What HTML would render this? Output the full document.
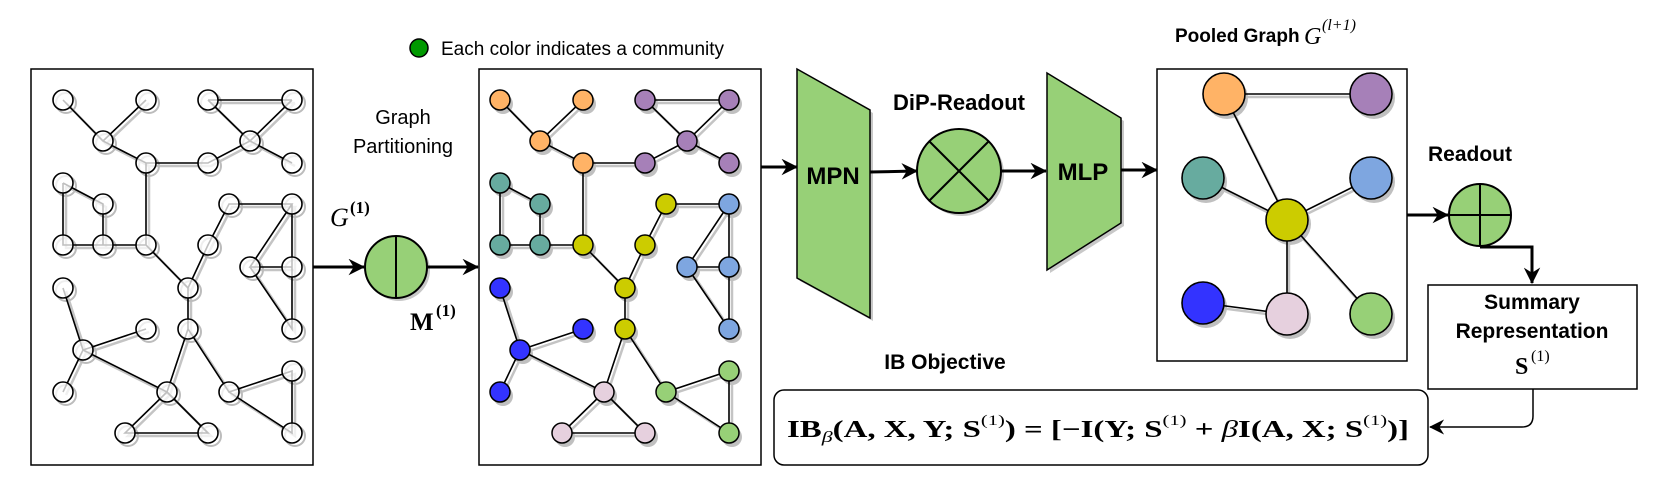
<!DOCTYPE html>
<html><head><meta charset="utf-8"><style>
html,body{margin:0;padding:0;background:#fff}
svg{display:block}
text{font-family:"Liberation Sans",sans-serif}
.m{font-family:"Liberation Serif",serif}
</style></head><body>
<svg width="1655" height="481" viewBox="0 0 1655 481" xmlns="http://www.w3.org/2000/svg">
<defs>
<marker id="ar" viewBox="0 0 16 16" refX="15" refY="8" markerWidth="5.5" markerHeight="5.5" markerUnits="strokeWidth" orient="auto">
<path d="M0 0L16 8L0 16L5 8Z" fill="#000"/></marker>
<marker id="ar2" viewBox="0 0 16 16" refX="15" refY="8" markerWidth="10" markerHeight="10" markerUnits="strokeWidth" orient="auto">
<path d="M0 0L16 8L0 16L5 8Z" fill="#000"/></marker>
<path id="E" d="M63 100L103 141L146 163L208 163L250 141L292 100 M146 100L103 141 M208 100L250 141L292 163 M208 100L292 100 M146 163L146 245 M63 183L103 204L103 245L63 245L63 183 M103 245L146 245L188 288L188 329 M188 288L208 245L229 204L292 204L250 267L292 267 M292 204L292 329L250 267 M63 288L83 350L146 329 M83 350L63 392 M83 350L167 392L188 329L229 392L292 371L292 433L229 392 M167 392L125 433L208 433L167 392" fill="none"/>
<g id="N">
<circle cx="63" cy="100" r="10"/><circle cx="146" cy="100" r="10"/><circle cx="208" cy="100" r="10"/><circle cx="292" cy="100" r="10"/>
<circle cx="103" cy="141" r="10"/><circle cx="146" cy="163" r="10"/><circle cx="208" cy="163" r="10"/><circle cx="250" cy="141" r="10"/>
<circle cx="292" cy="163" r="10"/><circle cx="63" cy="183" r="10"/><circle cx="103" cy="204" r="10"/><circle cx="63" cy="245" r="10"/>
<circle cx="103" cy="245" r="10"/><circle cx="146" cy="245" r="10"/><circle cx="229" cy="204" r="10"/><circle cx="292" cy="204" r="10"/>
<circle cx="208" cy="245" r="10"/><circle cx="250" cy="267" r="10"/><circle cx="292" cy="267" r="10"/><circle cx="188" cy="288" r="10"/>
<circle cx="63" cy="288" r="10"/><circle cx="146" cy="329" r="10"/><circle cx="188" cy="329" r="10"/><circle cx="83" cy="350" r="10"/>
<circle cx="292" cy="329" r="10"/><circle cx="63" cy="392" r="10"/><circle cx="167" cy="392" r="10"/><circle cx="229" cy="392" r="10"/>
<circle cx="292" cy="371" r="10"/><circle cx="125" cy="433" r="10"/><circle cx="208" cy="433" r="10"/><circle cx="292" cy="433" r="10"/>
</g>
</defs>

<!-- Left graph -->
<rect x="31" y="69" width="282" height="396" fill="#fff" stroke="#000" stroke-width="1.5"/>
<use href="#E" transform="translate(3,3)" stroke="#c4c4c4" stroke-width="2.5"/>
<use href="#N" transform="translate(3,3)" fill="none" stroke="#bcbcbc" stroke-width="2"/>
<use href="#E" stroke="#000" stroke-width="1.6"/>
<use href="#N" fill="#fff" fill-opacity="0.75" stroke="#000" stroke-width="1.6"/>

<!-- Middle graph -->
<rect x="479" y="69" width="282" height="396" fill="#fff" stroke="#000" stroke-width="1.5"/>
<use href="#E" transform="translate(440,3)" stroke="#c4c4c4" stroke-width="2.5"/>
<use href="#N" transform="translate(440,4)" fill="#c0c0c0" stroke="none"/>
<use href="#E" transform="translate(437,0)" stroke="#000" stroke-width="1.6"/>
<g stroke="#000" stroke-width="1.5">
<g fill="#FFB366"><circle cx="500" cy="100" r="10"/><circle cx="583" cy="100" r="10"/><circle cx="540" cy="141" r="10"/><circle cx="583" cy="163" r="10"/></g>
<g fill="#A680B8"><circle cx="645" cy="100" r="10"/><circle cx="729" cy="100" r="10"/><circle cx="645" cy="163" r="10"/><circle cx="687" cy="141" r="10"/><circle cx="729" cy="163" r="10"/></g>
<g fill="#67AB9F"><circle cx="500" cy="183" r="10"/><circle cx="540" cy="204" r="10"/><circle cx="500" cy="245" r="10"/><circle cx="540" cy="245" r="10"/></g>
<g fill="#CCCC00"><circle cx="583" cy="245" r="10"/><circle cx="666" cy="204" r="10"/><circle cx="645" cy="245" r="10"/><circle cx="625" cy="288" r="10"/><circle cx="625" cy="329" r="10"/></g>
<g fill="#7EA6E0"><circle cx="729" cy="204" r="10"/><circle cx="687" cy="267" r="10"/><circle cx="729" cy="267" r="10"/><circle cx="729" cy="329" r="10"/></g>
<g fill="#3333FF"><circle cx="500" cy="288" r="10"/><circle cx="583" cy="329" r="10"/><circle cx="520" cy="350" r="10"/><circle cx="500" cy="392" r="10"/></g>
<g fill="#E6D0DE"><circle cx="604" cy="392" r="10"/><circle cx="562" cy="433" r="10"/><circle cx="645" cy="433" r="10"/></g>
<g fill="#97D077"><circle cx="666" cy="392" r="10"/><circle cx="729" cy="371" r="10"/><circle cx="729" cy="433" r="10"/></g>
</g>

<!-- legend -->
<circle cx="419" cy="48" r="9" fill="#009900" stroke="#000" stroke-width="1.5"/>
<text x="441" y="55" font-size="19">Each color indicates a community</text>

<!-- Graph partitioning -->
<text x="403" y="124" font-size="20" text-anchor="middle">Graph</text>
<text x="403" y="153" font-size="20" text-anchor="middle">Partitioning</text>
<text class="m" x="330" y="226" font-size="26" font-style="italic">G</text>
<text class="m" x="350" y="213" font-size="17" font-weight="bold">(1)</text>
<text class="m" x="410" y="330" font-size="25" font-weight="bold">M</text>
<text class="m" x="436" y="316" font-size="17" font-weight="bold">(1)</text>
<line x1="313" y1="267" x2="364" y2="267" stroke="#000" stroke-width="3" marker-end="url(#ar)"/>
<circle cx="399" cy="270" r="31" fill="#c8c8c8"/>
<circle cx="396" cy="267" r="31" fill="#97D077" stroke="#000" stroke-width="2"/>
<line x1="396" y1="236" x2="396" y2="298" stroke="#000" stroke-width="2"/>
<line x1="427" y1="267" x2="478" y2="267" stroke="#000" stroke-width="3" marker-end="url(#ar)"/>

<!-- MPN -->
<line x1="761" y1="167" x2="797" y2="167" stroke="#000" stroke-width="3" marker-end="url(#ar)"/>
<polygon points="800,72 873,113 873,321 800,281" fill="#c8c8c8"/>
<polygon points="797,69 870,110 870,318 797,278" fill="#97D077" stroke="#000" stroke-width="1.5"/>
<text x="833" y="184" font-size="24" font-weight="bold" text-anchor="middle">MPN</text>
<line x1="870" y1="172" x2="917" y2="171" stroke="#000" stroke-width="3" marker-end="url(#ar)"/>
<text x="959" y="110" font-size="22" font-weight="bold" text-anchor="middle">DiP-Readout</text>
<circle cx="962" cy="174" r="42" fill="#c8c8c8"/>
<circle cx="959" cy="171" r="42" fill="#97D077" stroke="#000" stroke-width="2"/>
<line x1="929" y1="141" x2="989" y2="201" stroke="#000" stroke-width="2"/>
<line x1="989" y1="141" x2="929" y2="201" stroke="#000" stroke-width="2"/>
<line x1="1001" y1="171" x2="1046" y2="171" stroke="#000" stroke-width="3" marker-end="url(#ar)"/>

<!-- MLP -->
<polygon points="1050,76 1124,121 1124,226 1050,273" fill="#c8c8c8"/>
<polygon points="1047,73 1121,118 1121,223 1047,270" fill="#97D077" stroke="#000" stroke-width="1.5"/>
<text x="1083" y="180" font-size="24" font-weight="bold" text-anchor="middle">MLP</text>
<line x1="1121" y1="170" x2="1157" y2="170" stroke="#000" stroke-width="3" marker-end="url(#ar)"/>

<!-- Pooled graph -->
<text x="1175" y="42" font-size="19" font-weight="bold">Pooled Graph</text>
<text class="m" x="1304" y="44" font-size="24" font-style="italic">G</text>
<text class="m" x="1322" y="30" font-size="16" font-style="italic">(l+1)</text>
<rect x="1157" y="69" width="250" height="292" fill="#fff" stroke="#000" stroke-width="1.5"/>
<g stroke="#c4c4c4" stroke-width="2.5" fill="none" transform="translate(2,3)">
<path d="M1224 94L1371 94 M1224 94L1287 220 M1203 178L1287 220L1371 178 M1287 220L1287 314 M1287 220L1371 314 M1203 303L1287 314"/>
</g>
<g fill="#c0c0c0" transform="translate(3,4)">
<circle cx="1224" cy="94" r="21"/><circle cx="1371" cy="94" r="21"/><circle cx="1203" cy="178" r="21"/><circle cx="1371" cy="178" r="21"/>
<circle cx="1287" cy="220" r="21"/><circle cx="1203" cy="303" r="21"/><circle cx="1287" cy="314" r="21"/><circle cx="1371" cy="314" r="21"/>
</g>
<g stroke="#000" stroke-width="1.6" fill="none">
<path d="M1224 94L1371 94 M1224 94L1287 220 M1203 178L1287 220L1371 178 M1287 220L1287 314 M1287 220L1371 314 M1203 303L1287 314"/>
</g>
<g stroke="#000" stroke-width="1.6">
<circle cx="1224" cy="94" r="21" fill="#FFB366"/><circle cx="1371" cy="94" r="21" fill="#A680B8"/>
<circle cx="1203" cy="178" r="21" fill="#67AB9F"/><circle cx="1371" cy="178" r="21" fill="#7EA6E0"/>
<circle cx="1287" cy="220" r="21" fill="#CCCC00"/><circle cx="1203" cy="303" r="21" fill="#3333FF"/>
<circle cx="1287" cy="314" r="21" fill="#E6D0DE"/><circle cx="1371" cy="314" r="21" fill="#97D077"/>
</g>

<!-- Readout -->
<text x="1470" y="161" font-size="21" font-weight="bold" text-anchor="middle">Readout</text>
<line x1="1407" y1="215" x2="1448" y2="215" stroke="#000" stroke-width="3" marker-end="url(#ar)"/>
<circle cx="1480" cy="215" r="31" fill="#97D077" stroke="#000" stroke-width="2"/>
<line x1="1480" y1="184" x2="1480" y2="246" stroke="#000" stroke-width="2"/>
<line x1="1449" y1="215" x2="1511" y2="215" stroke="#000" stroke-width="2"/>
<path d="M1480 247L1532 247L1532 283" fill="none" stroke="#000" stroke-width="3" marker-end="url(#ar)"/>

<!-- Summary -->
<rect x="1428" y="285" width="209" height="104" fill="#fff" stroke="#000" stroke-width="1.5"/>
<text x="1532" y="309" font-size="21" font-weight="bold" text-anchor="middle">Summary</text>
<text x="1532" y="338" font-size="21" font-weight="bold" text-anchor="middle">Representation</text>
<text class="m" x="1515" y="374" font-size="24" font-weight="bold">S</text>
<text class="m" x="1531" y="361" font-size="16">(1)</text>
<path d="M1533 389L1533 416Q1533 427 1522 427L1430 427" fill="none" stroke="#000" stroke-width="1.5" marker-end="url(#ar2)"/>

<!-- IB objective -->
<text x="945" y="369" font-size="21" font-weight="bold" text-anchor="middle">IB Objective</text>
<rect x="774" y="390" width="654" height="75" rx="10" fill="#fff" stroke="#000" stroke-width="1.5"/>
<text class="m" x="787" y="437" font-size="24" font-weight="bold" textLength="622" lengthAdjust="spacingAndGlyphs">IB<tspan font-size="16" font-style="italic" font-weight="normal" dy="5">β</tspan><tspan dy="-5">(A, X, Y; S</tspan><tspan font-size="15" font-weight="normal" dy="-12">(1)</tspan><tspan dy="12">) = [−I(Y; S</tspan><tspan font-size="15" font-weight="normal" dy="-12">(1)</tspan><tspan dy="12"> + </tspan><tspan font-style="italic" font-weight="normal">β</tspan><tspan>I(A, X; S</tspan><tspan font-size="15" font-weight="normal" dy="-12">(1)</tspan><tspan dy="12">)]</tspan></text>
</svg>
</body></html>
